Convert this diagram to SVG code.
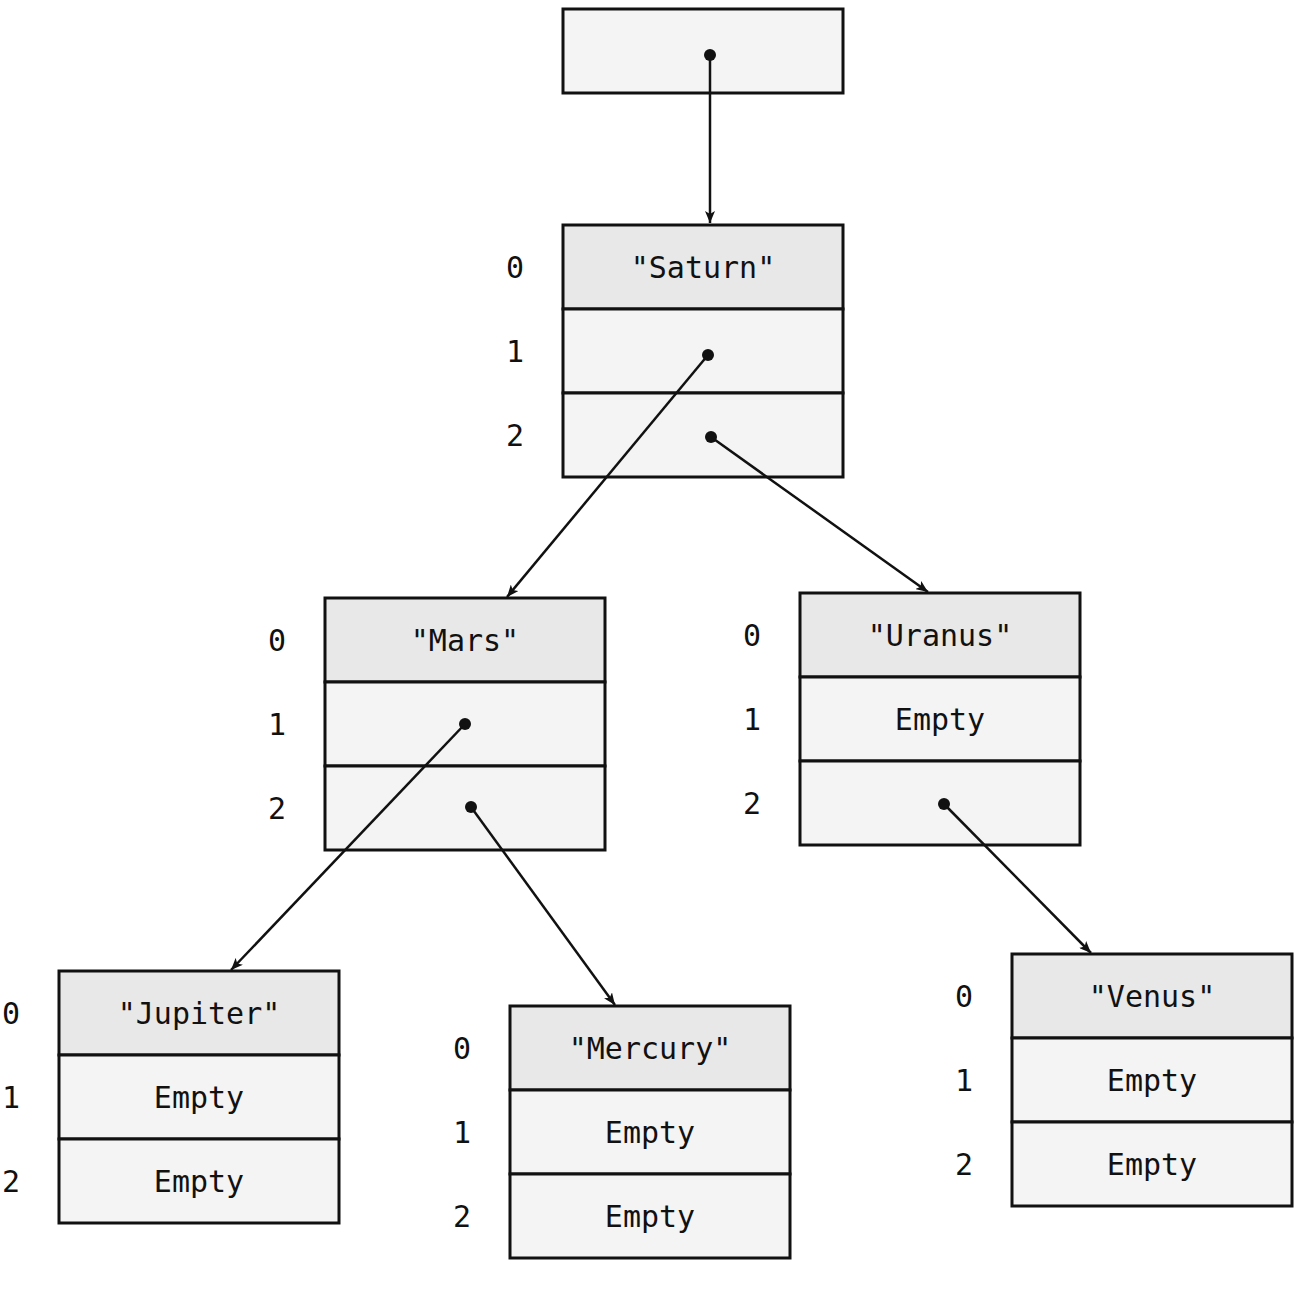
<svg xmlns="http://www.w3.org/2000/svg" width="1308" height="1290" viewBox="0 0 1308 1290">
<style>
.h{fill:#e8e8e8;stroke:#111;stroke-width:3}
.c{fill:#f4f4f4;stroke:#111;stroke-width:3}
text{font-family:"DejaVu Sans Mono",monospace;font-size:30px;fill:#111;text-anchor:middle;dominant-baseline:central}
.e{stroke:#111;stroke-width:2.5;fill:none;marker-end:url(#a)}
</style>
<defs>
<marker id="a" viewBox="0 0 12 10" refX="12" refY="5" markerWidth="12" markerHeight="10" markerUnits="userSpaceOnUse" orient="auto"><path d="M0,0 L12,5 L0,10 L3,5 Z" fill="#111"/></marker>
<g id="t"><rect class="h" x="0" y="0" width="280" height="84"/><rect class="c" x="0" y="84" width="280" height="84"/><rect class="c" x="0" y="168" width="280" height="84"/></g>
</defs>
<rect class="c" x="563" y="9" width="280" height="84"/>
<g id="saturn" transform="translate(563,225)"><use href="#t"/><text x="140" y="42">"Saturn"</text><text x="-48" y="42">0</text><text x="-48" y="126">1</text><text x="-48" y="210">2</text></g>
<g id="mars" transform="translate(325,598)"><use href="#t"/><text x="140" y="42">"Mars"</text><text x="-48" y="42">0</text><text x="-48" y="126">1</text><text x="-48" y="210">2</text></g>
<g id="uranus" transform="translate(800,593)"><use href="#t"/><text x="140" y="42">"Uranus"</text><text x="140" y="126">Empty</text><text x="-48" y="42">0</text><text x="-48" y="126">1</text><text x="-48" y="210">2</text></g>
<g id="jupiter" transform="translate(59,971)"><use href="#t"/><text x="140" y="42">"Jupiter"</text><text x="140" y="126">Empty</text><text x="140" y="210">Empty</text><text x="-48" y="42">0</text><text x="-48" y="126">1</text><text x="-48" y="210">2</text></g>
<g id="mercury" transform="translate(510,1006)"><use href="#t"/><text x="140" y="42">"Mercury"</text><text x="140" y="126">Empty</text><text x="140" y="210">Empty</text><text x="-48" y="42">0</text><text x="-48" y="126">1</text><text x="-48" y="210">2</text></g>
<g id="venus" transform="translate(1012,954)"><use href="#t"/><text x="140" y="42">"Venus"</text><text x="140" y="126">Empty</text><text x="140" y="210">Empty</text><text x="-48" y="42">0</text><text x="-48" y="126">1</text><text x="-48" y="210">2</text></g>
<g id="connectors">
<path class="e" d="M710,55 L710,223"/>
<path class="e" d="M708,355 L507,597"/>
<path class="e" d="M711,437 L928,592"/>
<path class="e" d="M465,724 L231,970"/>
<path class="e" d="M471,807 L615,1005"/>
<path class="e" d="M944,804 L1091,953"/>
<g fill="#111"><circle cx="710" cy="55" r="6"/><circle cx="708" cy="355" r="6"/><circle cx="711" cy="437" r="6"/><circle cx="465" cy="724" r="6"/><circle cx="471" cy="807" r="6"/><circle cx="944" cy="804" r="6"/></g>
</g>
</svg>
